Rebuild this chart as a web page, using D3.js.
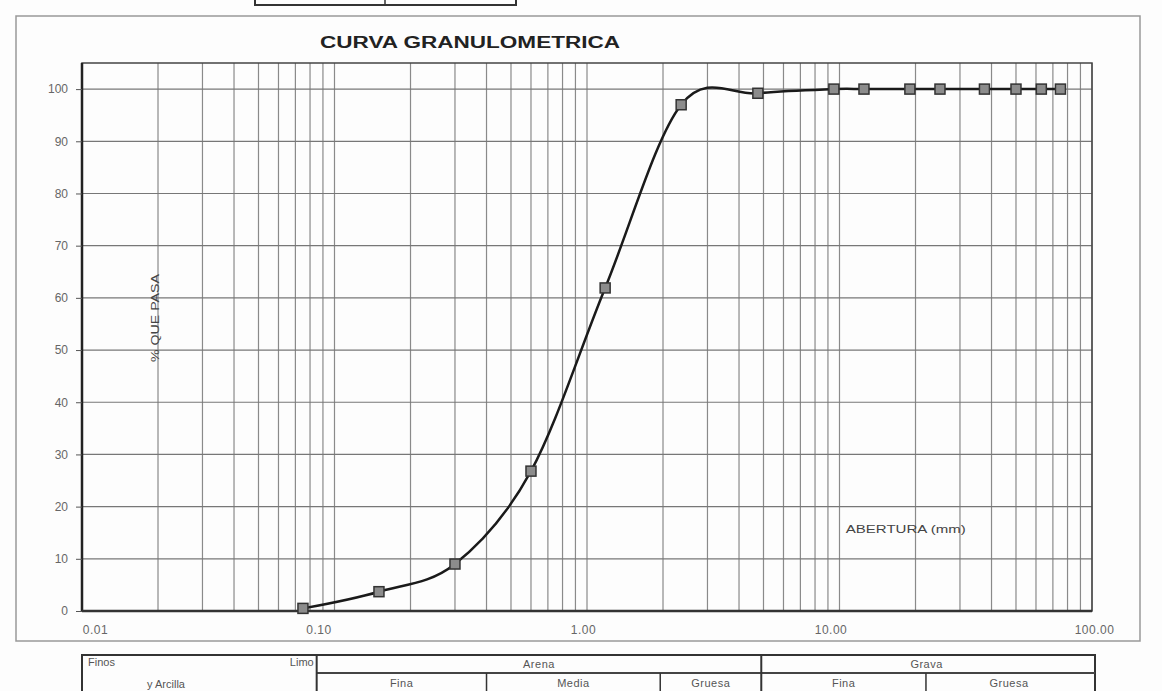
<!DOCTYPE html>
<html>
<head>
<meta charset="utf-8">
<script src="https://cdn.jsdelivr.net/npm/d3@7"></script>
<style>
  body { margin: 0; background: #fdfdfd; }
  svg { display: block; font-family: "Liberation Sans", Arial, sans-serif; }
</style>
</head>
<body>
<svg id="chart"></svg>
<script>
// Sieve openings (mm) and percent passing
const sieveSizes = [0.075, 0.15, 0.30, 0.60, 1.18, 2.36, 4.75, 9.5, 12.5, 19.0, 25.0, 37.5, 50.0, 63.0, 75.0];
const percentPassing = [0.5, 3.7, 9.0, 26.8, 61.9, 97.0, 99.2, 100, 100, 100, 100, 100, 100, 100, 100];

const xTickValues = [0.01, 0.1, 1, 10, 100];
const xTickLabels = ['0.01', '0.10', '1.00', '10.00', '100.00'];
const yTickValues = [0, 10, 20, 30, 40, 50, 60, 70, 80, 90, 100];

// Soil classification table below the chart (limits in mm, as drawn)
const topRow = [
    { from: 0.01, to: 0.085, label: '' },
    { from: 0.085, to: 4.9, label: 'Arena' },
    { from: 4.9, to: 100, label: 'Grava' }
];
const bottomRow = [
    { from: 0.085, to: 0.40, label: 'Fina' },
    { from: 0.40, to: 1.95, label: 'Media' },
    { from: 1.95, to: 4.9, label: 'Gruesa' },
    { from: 4.9, to: 22.0, label: 'Fina' },
    { from: 22.0, to: 100, label: 'Gruesa' }
];

const width = 1162;
const height = 691;
const margin = { top: 63, right: 70, bottom: 80, left: 82 };
const plotW = width - margin.left - margin.right;
const plotH = height - margin.top - margin.bottom;

const svg = d3.select('svg#chart')
    .attr('width', width)
    .attr('height', height);

// Outer frame and small box at the top
svg.append('rect')
    .attr('x', 16).attr('y', 16)
    .attr('width', 1124).attr('height', 625)
    .attr('fill', 'none')
    .attr('stroke', '#999')
    .attr('stroke-width', 1.5);

svg.append('rect')
    .attr('x', 255).attr('y', -4)
    .attr('width', 261).attr('height', 9)
    .attr('fill', 'none')
    .attr('stroke', '#333')
    .attr('stroke-width', 2);
svg.append('line')
    .attr('x1', 385).attr('x2', 385).attr('y1', 0).attr('y2', 5)
    .attr('stroke', '#333').attr('stroke-width', 1.5);

const xScale = d3.scaleLog()
    .domain([0.01, 100])
    .range([0, plotW]);

const yScale = d3.scaleLinear()
    .domain([0, 105])
    .range([plotH, 0]);

const g = svg.append('g')
    .attr('transform', `translate(${margin.left}, ${margin.top})`);

// Vertical log grid
g.selectAll('.vgrid')
    .data(xScale.ticks())
    .enter()
    .append('line')
    .attr('class', 'vgrid')
    .attr('x1', d => xScale(d)).attr('x2', d => xScale(d))
    .attr('y1', 0).attr('y2', plotH)
    .attr('stroke', '#8a8a8a')
    .attr('stroke-width', 1.2);

// Horizontal grid
g.selectAll('.hgrid')
    .data(yTickValues)
    .enter()
    .append('line')
    .attr('class', 'hgrid')
    .attr('x1', 0).attr('x2', plotW)
    .attr('y1', d => yScale(d)).attr('y2', d => yScale(d))
    .attr('stroke', '#777')
    .attr('stroke-width', 1.2);

// Plot frame
g.append('rect')
    .attr('width', plotW).attr('height', plotH)
    .attr('fill', 'none')
    .attr('stroke', '#444')
    .attr('stroke-width', 1.5);
g.append('line')
    .attr('x1', 0).attr('x2', 0).attr('y1', 0).attr('y2', plotH)
    .attr('stroke', '#222').attr('stroke-width', 2.5);
g.append('line')
    .attr('x1', 0).attr('x2', plotW).attr('y1', plotH).attr('y2', plotH)
    .attr('stroke', '#333').attr('stroke-width', 2.5);

// Y axis
const yAxis = d3.axisLeft(yScale)
    .tickValues(yTickValues)
    .tickSize(6)
    .tickPadding(8);
const yAxisG = g.append('g').call(yAxis);
yAxisG.select('.domain').remove();
yAxisG.selectAll('.tick line').attr('stroke', '#555');
yAxisG.selectAll('.tick text')
    .attr('fill', '#666')
    .style('font-size', '12px');

// X axis
const xAxis = d3.axisBottom(xScale)
    .tickValues(xTickValues)
    .tickFormat((d, i) => xTickLabels[i])
    .tickSize(0)
    .tickPadding(14);
const xAxisDx = [13, -16, -4, -9, 2];
const xAxisG = g.append('g')
    .attr('transform', `translate(0, ${plotH})`)
    .call(xAxis);
xAxisG.select('.domain').remove();
xAxisG.selectAll('.tick text')
    .attr('fill', '#666')
    .style('font-size', '12px')
    .style('letter-spacing', '0.5px')
    .attr('dx', (d, i) => xAxisDx[i]);

// Grading curve
const points = sieveSizes.map((s, i) => [s, percentPassing[i]]);
const line = d3.line()
    .x(d => xScale(d[0]))
    .y(d => yScale(d[1]))
    .curve(d3.curveCardinal.tension(0));

g.append('path')
    .datum(points)
    .attr('d', line)
    .attr('fill', 'none')
    .attr('stroke', '#1a1a1a')
    .attr('stroke-width', 2.5);

g.selectAll('.marker')
    .data(points)
    .enter()
    .append('rect')
    .attr('class', 'marker')
    .attr('x', d => xScale(d[0]) - 5)
    .attr('y', d => yScale(d[1]) - 5)
    .attr('width', 10).attr('height', 10)
    .attr('fill', '#8c8c8c')
    .attr('stroke', '#333')
    .attr('stroke-width', 1.5);

// Title and axis labels
svg.append('text')
    .attr('x', 320).attr('y', 48)
    .attr('textLength', 300)
    .attr('lengthAdjust', 'spacingAndGlyphs')
    .style('font-size', '16px')
    .style('font-weight', 'bold')
    .attr('fill', '#222')
    .text('CURVA GRANULOMETRICA');

svg.append('text')
    .attr('transform', 'translate(159, 318) rotate(-90)')
    .attr('text-anchor', 'middle')
    .attr('textLength', 88)
    .attr('lengthAdjust', 'spacingAndGlyphs')
    .style('font-size', '10px')
    .attr('fill', '#444')
    .text('% QUE PASA');

g.append('text')
    .attr('x', xScale(18.3)).attr('y', yScale(15.0))
    .attr('text-anchor', 'middle')
    .attr('textLength', 120)
    .attr('lengthAdjust', 'spacingAndGlyphs')
    .style('font-size', '10px')
    .attr('fill', '#444')
    .text('ABERTURA (mm)');

// Classification table
const t = svg.append('g')
    .attr('transform', `translate(${margin.left}, 655)`);
const rowH = 18;
const tx = d => xScale(d);

t.append('rect')
    .attr('x', 0).attr('y', 0)
    .attr('width', plotW + 3).attr('height', rowH * 2 + 4)
    .attr('fill', 'none')
    .attr('stroke', '#333')
    .attr('stroke-width', 2);

t.append('line')
    .attr('x1', tx(topRow[1].from)).attr('x2', plotW + 3)
    .attr('y1', rowH).attr('y2', rowH)
    .attr('stroke', '#444').attr('stroke-width', 2);

t.selectAll('.vt')
    .data(topRow.slice(1))
    .enter()
    .append('line')
    .attr('x1', d => tx(d.from)).attr('x2', d => tx(d.from))
    .attr('y1', 0).attr('y2', rowH * 2 + 4)
    .attr('stroke', '#333').attr('stroke-width', 2);

t.selectAll('.vb')
    .data(bottomRow.filter(d => d.from !== topRow[1].from && d.from !== topRow[2].from))
    .enter()
    .append('line')
    .attr('x1', d => tx(d.from)).attr('x2', d => tx(d.from))
    .attr('y1', rowH).attr('y2', rowH * 2 + 4)
    .attr('stroke', '#333').attr('stroke-width', 1.5);

t.selectAll('.lt')
    .data(topRow.slice(1))
    .enter()
    .append('text')
    .attr('x', d => (tx(d.from) + Math.min(tx(d.to), plotW)) / 2)
    .attr('y', 13)
    .attr('text-anchor', 'middle')
    .style('font-size', '11px')
    .style('letter-spacing', '0.5px')
    .attr('fill', '#555')
    .text(d => d.label);

t.selectAll('.lb')
    .data(bottomRow)
    .enter()
    .append('text')
    .attr('x', d => (tx(d.from) + Math.min(tx(d.to), plotW)) / 2)
    .attr('y', 32)
    .attr('text-anchor', 'middle')
    .style('font-size', '11px')
    .style('letter-spacing', '0.5px')
    .attr('fill', '#555')
    .text(d => d.label);

t.append('text')
    .attr('x', 6).attr('y', 11)
    .style('font-size', '11px').attr('fill', '#555')
    .text('Finos');
t.append('text')
    .attr('x', tx(topRow[1].from) - 3).attr('y', 11)
    .attr('text-anchor', 'end')
    .style('font-size', '11px').attr('fill', '#555')
    .text('Limo');
t.append('text')
    .attr('x', 84).attr('y', 33)
    .attr('text-anchor', 'middle')
    .style('font-size', '11px').attr('fill', '#555')
    .text('y Arcilla');
</script>
</body>
</html>
